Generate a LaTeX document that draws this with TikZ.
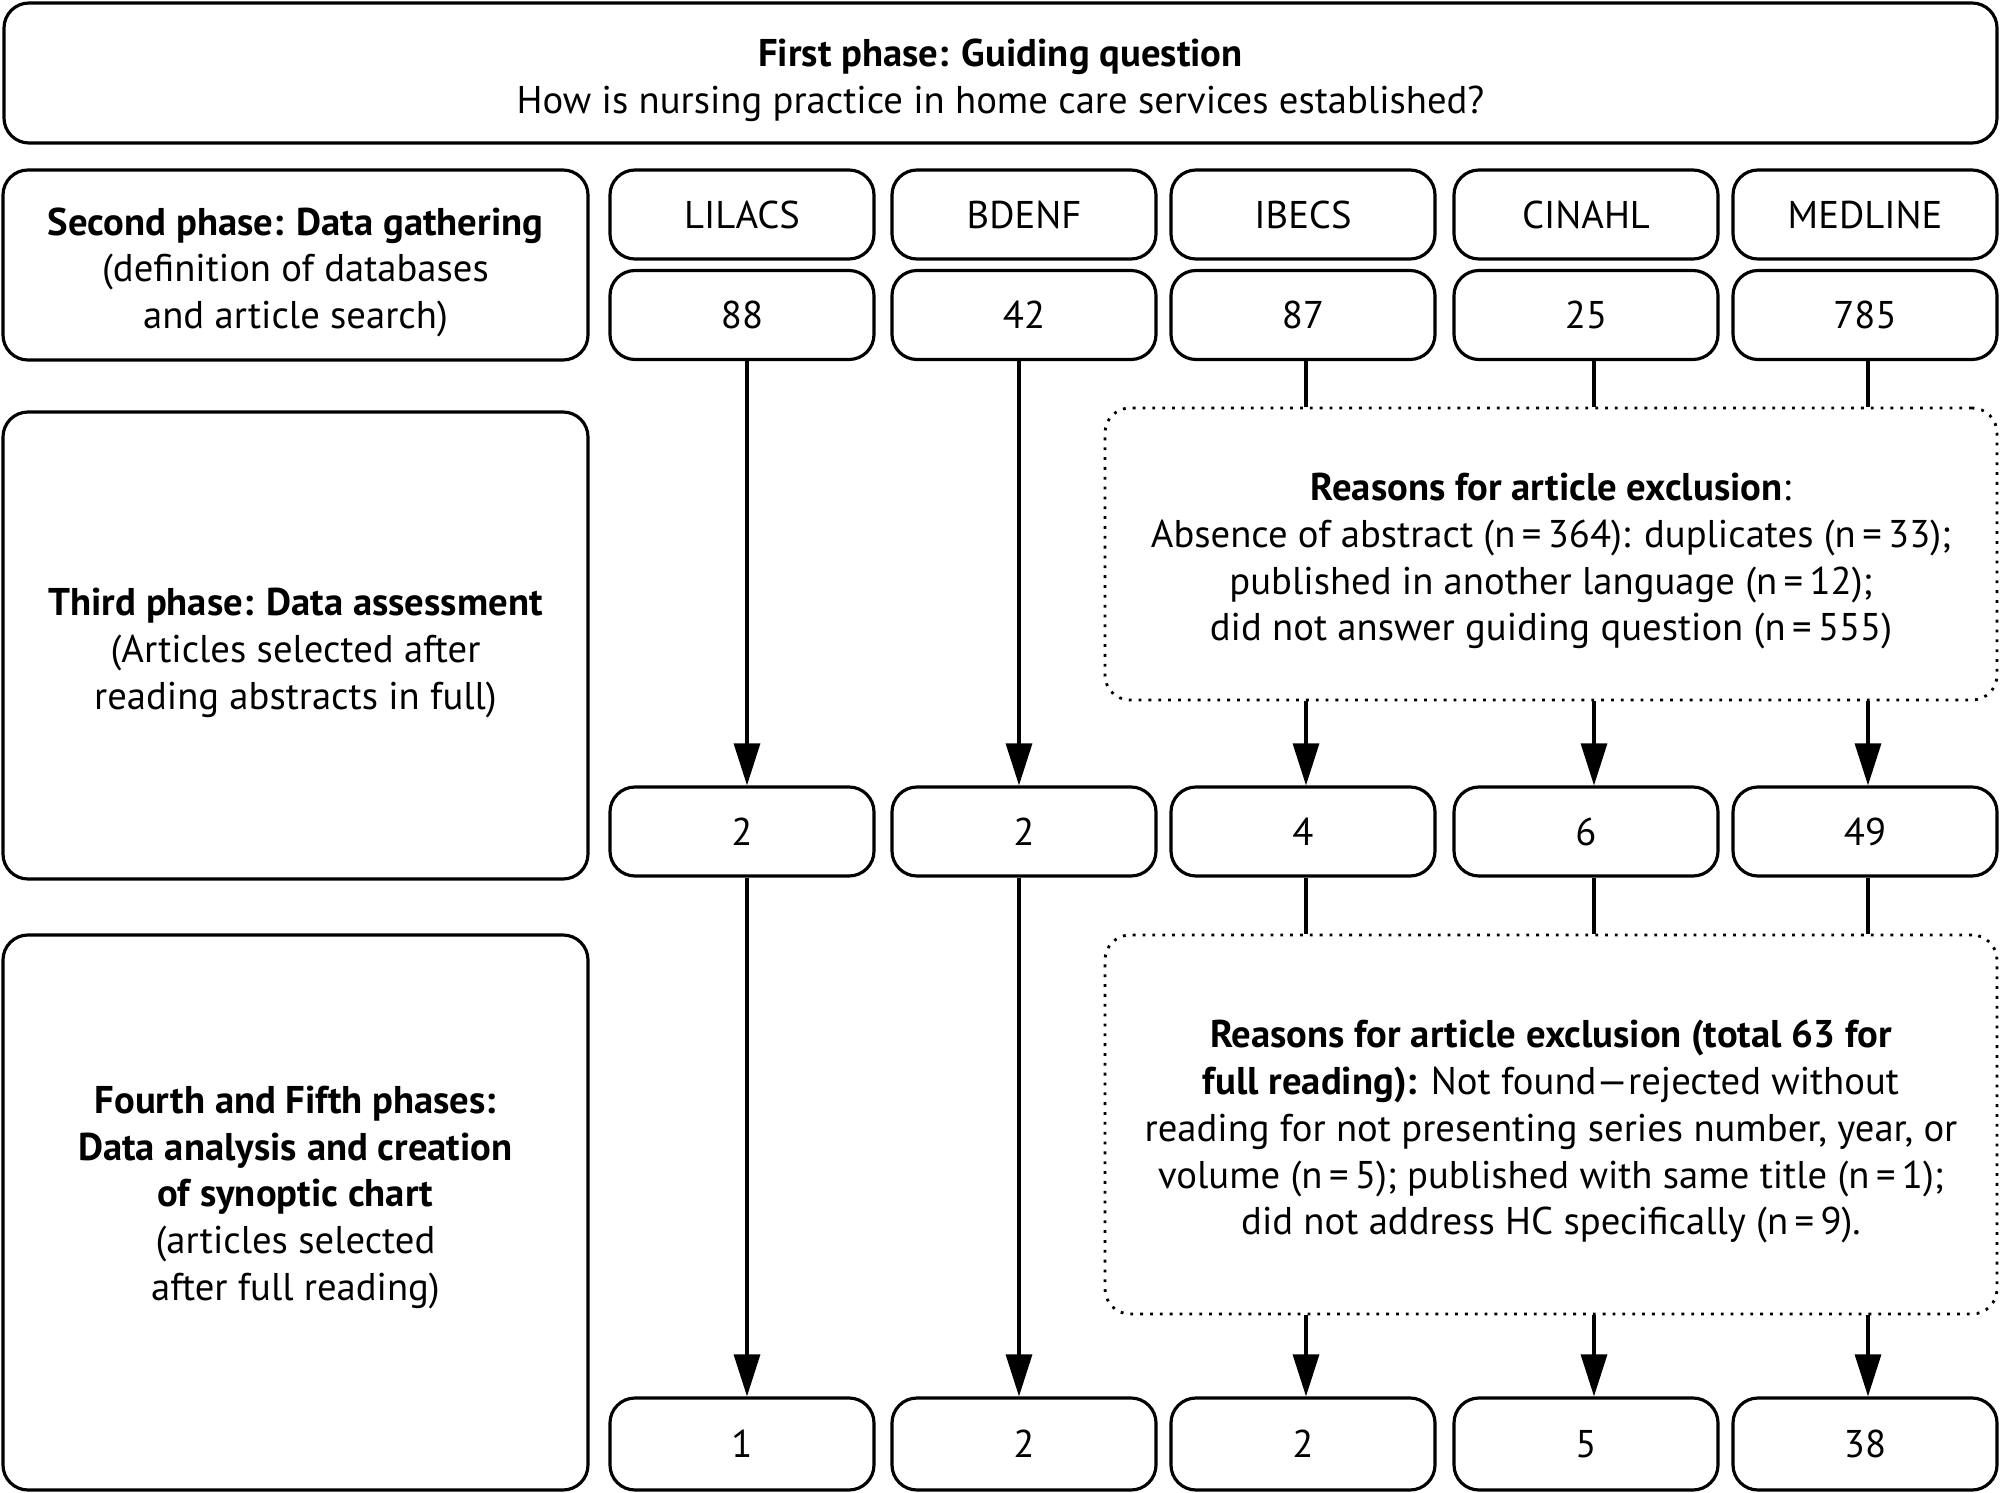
\documentclass[tikz,border=0pt]{standalone}
\usepackage{fontspec}
\setmainfont{PT Sans}
\usetikzlibrary{arrows.meta}

% extra room above the first line of a box text
\newcommand{\topgap}{\rule{0pt}{12pt}}

\begin{document}
\begin{tikzpicture}[
        x=1cm, y=-1cm,
        phaseBox/.style={
            rectangle,
            draw,
            rounded corners=0.25cm,
            line width=0.9pt,
            align=center,
            inner sep=0pt,
            font=\fontsize{11}{13.3}\selectfont
        },
        dbBox/.style={
            phaseBox,
            minimum width=2.64cm,
            minimum height=0.89cm
        },
        noteBox/.style={
            rectangle,
            draw,
            dotted,
            rounded corners=0.25cm,
            line width=0.8pt,
            align=center,
            inner sep=0pt,
            minimum width=8.92cm,
            font=\fontsize{11}{13.3}\selectfont
        },
        line/.style={
            line width=0.9pt
        },
        arrow/.style={
            line width=0.9pt,
            -{Triangle[length=4.2mm,width=2.6mm]}
        }
    ]
        \useasboundingbox (0,0) rectangle (20,14.93);

        \node[phaseBox, minimum width=19.93cm, minimum height=1.40cm] (guide) at (10.005,0.73)
            {\topgap\textbf{First phase: Guiding question}\\How is nursing practice in home care services established?};

        \node[phaseBox, minimum width=5.85cm, minimum height=1.90cm] (gather) at (2.955,2.65)
            {\topgap\textbf{Second phase: Data gathering}\\(definition of databases\\and article search)};
        \node[phaseBox, minimum width=5.85cm, minimum height=4.67cm] (assess) at (2.955,6.455)
            {\topgap\textbf{Third phase: Data assessment}\\(Articles selected after\\reading abstracts in full)};
        \node[phaseBox, minimum width=5.85cm, minimum height=5.55cm] (analysis) at (2.955,12.125)
            {\textbf{Fourth and Fifth phases:}\\\textbf{Data analysis and creation}\\\textbf{of synoptic chart}\\(articles selected\\after full reading)\rule[-11pt]{0pt}{11pt}};

        % databases
        \node[dbBox] (lilacs)  at (7.42,2.145)  {LILACS};
        \node[dbBox] (bdenf)   at (10.24,2.145) {BDENF};
        \node[dbBox] (ibecs)   at (13.03,2.145) {IBECS};
        \node[dbBox] (cinahl)  at (15.86,2.145) {CINAHL};
        \node[dbBox] (medline) at (18.65,2.145) {MEDLINE};

        % articles found
        \node[dbBox] (found1) at (7.42,3.15)  {88};
        \node[dbBox] (found2) at (10.24,3.15) {42};
        \node[dbBox] (found3) at (13.03,3.15) {87};
        \node[dbBox] (found4) at (15.86,3.15) {25};
        \node[dbBox] (found5) at (18.65,3.15) {785};

        % after abstracts
        \node[dbBox] (abst1) at (7.42,8.315)  {2};
        \node[dbBox] (abst2) at (10.24,8.315) {2};
        \node[dbBox] (abst3) at (13.03,8.315) {4};
        \node[dbBox] (abst4) at (15.86,8.315) {6};
        \node[dbBox] (abst5) at (18.65,8.315) {49};

        % after full reading
        \node[dbBox, minimum height=0.92cm] (full1) at (7.42,14.44)  {1};
        \node[dbBox, minimum height=0.92cm] (full2) at (10.24,14.44) {2};
        \node[dbBox, minimum height=0.92cm] (full3) at (13.03,14.44) {2};
        \node[dbBox, minimum height=0.92cm] (full4) at (15.86,14.44) {5};
        \node[dbBox, minimum height=0.92cm] (full5) at (18.65,14.44) {38};

        \node[noteBox, minimum height=2.92cm] (excl1) at (15.51,5.54)
            {\topgap\textbf{Reasons for article exclusion}:\\
             Absence of abstract (n\,=\,364): duplicates (n\,=\,33);\\
             published in another language (n\,=\,12);\\
             did not answer guiding question (n\,=\,555)};
        \node[noteBox, minimum height=3.79cm] (excl2) at (15.51,11.245)
            {\topgap\textbf{Reasons for article exclusion (total 63 for}\\
             \textbf{full reading):} Not found---rejected without\\
             reading for not presenting series number, year, or\\
             volume (n\,=\,5); published with same title (n\,=\,1);\\
             did not address HC specifically (n\,=\,9).};

        % abstracts step
        \draw[arrow] ([xshift=0.05cm]found1.south) -- ([xshift=0.05cm]abst1.north);
        \draw[arrow] ([xshift=-0.05cm]found2.south) -- ([xshift=-0.05cm]abst2.north);
        \draw[line] ([xshift=0.03cm]found3.south) -- ([xshift=0.03cm]found3 |- excl1.north);
        \draw[line] ([xshift=0.08cm]found4.south) -- ([xshift=0.08cm]found4 |- excl1.north);
        \draw[line] ([xshift=0.03cm]found5.south) -- ([xshift=0.03cm]found5 |- excl1.north);
        \draw[arrow] ([xshift=0.03cm]abst3 |- excl1.south) -- ([xshift=0.03cm]abst3.north);
        \draw[arrow] ([xshift=0.08cm]abst4 |- excl1.south) -- ([xshift=0.08cm]abst4.north);
        \draw[arrow] ([xshift=0.03cm]abst5 |- excl1.south) -- ([xshift=0.03cm]abst5.north);

        % full reading step
        \draw[arrow] ([xshift=0.05cm]abst1.south) -- ([xshift=0.05cm]full1.north);
        \draw[arrow] ([xshift=-0.05cm]abst2.south) -- ([xshift=-0.05cm]full2.north);
        \draw[line] ([xshift=0.03cm]abst3.south) -- ([xshift=0.03cm]abst3 |- excl2.north);
        \draw[line] ([xshift=0.08cm]abst4.south) -- ([xshift=0.08cm]abst4 |- excl2.north);
        \draw[line] ([xshift=0.03cm]abst5.south) -- ([xshift=0.03cm]abst5 |- excl2.north);
        \draw[arrow] ([xshift=0.03cm]full3 |- excl2.south) -- ([xshift=0.03cm]full3.north);
        \draw[arrow] ([xshift=0.08cm]full4 |- excl2.south) -- ([xshift=0.08cm]full4.north);
        \draw[arrow] ([xshift=0.03cm]full5 |- excl2.south) -- ([xshift=0.03cm]full5.north);

    \end{tikzpicture}
\end{document}
